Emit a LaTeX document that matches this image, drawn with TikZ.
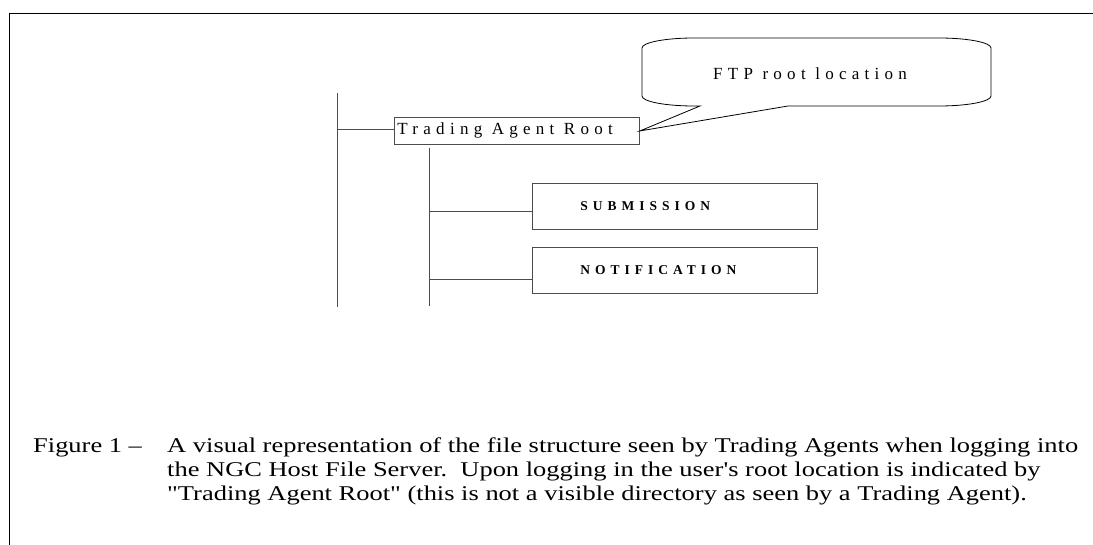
\documentclass[tikz,border=0pt]{standalone}
\usepackage{fontspec}
\setmainfont{Liberation Serif}
\newfontfamily\capfont[FakeStretch=1.26]{Liberation Serif}
\newcommand{\rootfont}{\fontsize{17pt}{20pt}\selectfont\addfontfeature{LetterSpace=31}}
\newcommand{\ftpfont}{\fontsize{17pt}{20pt}\selectfont\addfontfeature{LetterSpace=31}}
\newcommand{\dirfont}{\fontsize{13.5pt}{15pt}\selectfont\bfseries\addfontfeature{LetterSpace=37}}
\newcommand{\captfont}{\capfont\fontsize{21pt}{25pt}\selectfont}
\begin{document}
\begin{tikzpicture}[x=1pt,y=-1pt,
  frameline/.style={draw=black, line width=1.8pt},
  treeline/.style={draw=black!70, line width=0.9pt},
  dirbox/.style={draw=black!70, line width=0.9pt, rectangle, inner sep=0pt, anchor=north west},
  calloutline/.style={draw=black, line width=0.8pt, line join=miter},
  captext/.style={anchor=base west, inner sep=0pt, font=\captfont}]
\useasboundingbox (0,0) rectangle (1093,545);
% frame
\draw[frameline] (1100,13.5) -- (9.5,13.5) -- (9.5,550);
% boxes
\node[dirbox, minimum width=245pt, minimum height=27pt, text height=10pt, text depth=3pt] (root) at (394,117)
  {\makebox[245pt][l]{\hspace{3pt}\rootfont Trading Agent Root}};
\node[dirbox, minimum width=285pt, minimum height=46pt, text height=9pt, text depth=0pt] (sub) at (532,183)
  {\makebox[285pt][l]{\hspace{48pt}\dirfont SUBMISSION}};
\node[dirbox, minimum width=285pt, minimum height=46pt, text height=9pt, text depth=0pt] (note) at (532,247)
  {\makebox[285pt][l]{\hspace{48pt}\dirfont NOTIFICATION}};
% tree lines
\coordinate (v1top) at (337,93);
\coordinate (v1bot) at (337,307);
\coordinate (j0) at (337,129);
\coordinate (v2top) at (429,148);
\coordinate (v2bot) at (429,306);
\coordinate (j1) at (429,211);
\coordinate (j2) at (429,279);
\draw[treeline] (v1top) -- (v1bot);
\draw[treeline] (j0) -- (j0 -| root.west);
\draw[treeline] (v2top) -- (v2bot);
\draw[treeline] (j1) -- (j1 -| sub.west);
\draw[treeline] (j2) -- (j2 -| note.west);
% callout
\draw[calloutline] (694,38) -- (939,38)
  arc[start angle=90, end angle=0, x radius=52pt, y radius=10pt] -- (991,96)
  arc[start angle=0, end angle=-90, x radius=52pt, y radius=10pt] -- (788,106)
  -- (root.east) -- (700,106) -- (694,106)
  arc[start angle=270, end angle=180, x radius=52pt, y radius=10pt] -- (642,48)
  arc[start angle=180, end angle=90, x radius=52pt, y radius=10pt] -- cycle;
\node[anchor=base west, inner sep=0pt] (ftp) at (713,80) {\ftpfont FTP root location};
% caption
\node[captext] (fig) at (33,452) {Figure 1 –};
\node[captext] (cap1) at (167,452) {A visual representation of the file structure seen by Trading Agents when logging into};
\node[captext] (cap2) at (167,476) {the NGC Host File Server.\ \ Upon logging in the user's root location is indicated by};
\node[captext] (cap3) at (167,500) {"Trading Agent Root" (this is not a visible directory as seen by a Trading Agent).};
\end{tikzpicture}
\end{document}
